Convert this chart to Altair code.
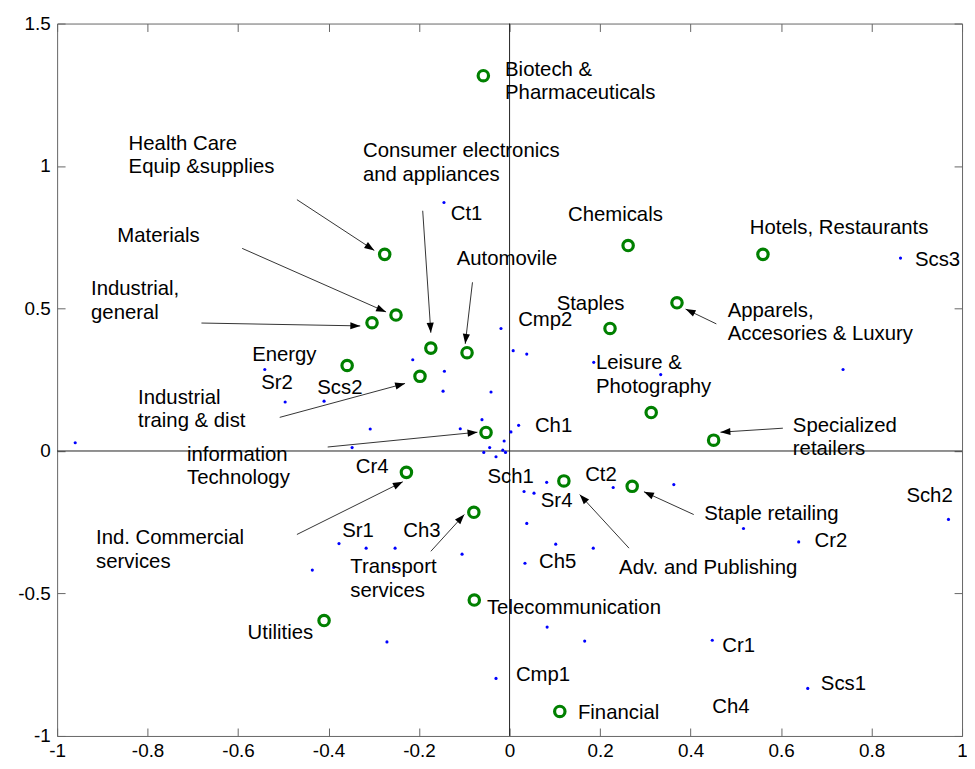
import math
import altair as alt
import pandas as pd

# ---------------- data ----------------
# sector centroids (green circles)
sector_x = [-0.058, -0.276, -0.251, -0.304, -0.174, -0.094, -0.359, -0.198, -0.052,
            0.262, 0.222, 0.560, 0.370, 0.313, 0.451, 0.120, 0.271, -0.228, -0.079,
            -0.078, -0.410, 0.111]
sector_y = [1.317, 0.690, 0.477, 0.450, 0.361, 0.345, 0.300, 0.262, 0.065,
            0.721, 0.430, 0.690, 0.520, 0.135, 0.038, -0.105, -0.124, -0.075, -0.215,
            -0.523, -0.595, -0.914]

# individual observations (blue dots)
dot_x = [-0.145, 0.864, -0.960, -0.541, -0.496, -0.410, -0.214, -0.308, -0.348, -0.019,
         0.008, 0.038, 0.186, -0.144, -0.147, -0.041, -0.061, -0.109, 0.020, 0.003,
         -0.012, -0.044, -0.015, -0.009, -0.057, -0.030, 0.082, 0.032, 0.054, 0.229,
         0.334, 0.737, 0.363, -0.377, -0.317, -0.253, -0.256, -0.105, 0.038, 0.102,
         0.185, 0.034, -0.271, 0.083, 0.166, -0.030, -0.436, 0.970, 0.517, 0.639,
         0.448, 0.659]
dot_y = [0.872, 0.677, 0.029, 0.286, 0.172, 0.175, 0.320, 0.077, 0.012, 0.430,
         0.352, 0.340, 0.311, 0.280, 0.210, 0.207, 0.110, 0.078, 0.090, 0.067,
         0.035, 0.012, 0.003, -0.005, -0.005, -0.020, -0.110, -0.142, -0.148, -0.128,
         0.268, 0.286, -0.118, -0.325, -0.341, -0.341, -0.409, -0.362, -0.254, -0.327,
         -0.341, -0.394, -0.670, -0.618, -0.667, -0.798, -0.418, -0.240, -0.272, -0.319,
         -0.664, -0.833]

# text labels (left edge / first baseline, in data units)
label_text = ["Biotech &\nPharmaceuticals", "Health Care\nEquip &supplies", "Materials",
              "Industrial,\ngeneral", "Energy", "Sr2", "Scs2", "Industrial\ntraing & dist",
              "information\nTechnology", "Cr4", "Ind. Commercial\nservices", "Sr1", "Ch3",
              "Transport\nservices", "Utilities", "Telecommunication", "Cmp1", "Financial",
              "Ch4", "Scs1", "Cr1", "Cr2", "Staple retailing", "Adv. and Publishing",
              "Ch5", "Sch1", "Sr4", "Ct2", "Sch2", "Specialized\nretailers",
              "Leisure &\nPhotography", "Apparels,\nAccesories & Luxury", "Staples",
              "Cmp2", "Ch1", "Automovile", "Chemicals", "Ct1",
              "Consumer electronics\nand appliances", "Hotels, Restaurants", "Scs3"]
label_x = [-0.010, -0.842, -0.867, -0.925, -0.569, -0.549, -0.425, -0.821,
           -0.713, -0.340, -0.914, -0.370, -0.235,
           -0.352, -0.579, -0.050, 0.014, 0.151,
           0.448, 0.688, 0.470, 0.674, 0.430, 0.242,
           0.065, -0.049, 0.069, 0.167, 0.877, 0.626,
           0.191, 0.482, 0.104,
           0.019, 0.056, -0.117, 0.129, -0.130,
           -0.324, 0.531, 0.896]
label_y = [1.316, 1.057, 0.732, 0.546, 0.315, 0.218, 0.201, 0.166,
           -0.034, -0.076, -0.328, -0.302, -0.302,
           -0.429, -0.661, -0.571, -0.807, -0.940,
           -0.920, -0.839, -0.705, -0.336, -0.243, -0.432,
           -0.412, -0.113, -0.196, -0.107, -0.179, 0.067,
           0.286, 0.471, 0.494,
           0.437, 0.067, 0.654, 0.807, 0.811,
           1.031, 0.762, 0.648]

# arrows: from label (x1, y1) to sector (x2, y2)
arrow_x1 = [-0.470, -0.591, -0.681, -0.192, -0.082, -0.508, -0.402, -0.470, -0.174, 0.264, 0.407, 0.457, 0.604]
arrow_y1 = [0.882, 0.711, 0.449, 0.843, 0.592, 0.118, 0.014, -0.293, -0.352, -0.341, -0.223, 0.446, 0.080]
arrow_x2 = [-0.299, -0.273, -0.330, -0.174, -0.098, -0.231, -0.071, -0.236, -0.100, 0.155, 0.297, 0.389, 0.466]
arrow_y2 = [0.704, 0.488, 0.439, 0.415, 0.376, 0.237, 0.066, -0.108, -0.223, -0.153, -0.143, 0.498, 0.066]

x_ticks = [-1, -0.8, -0.6, -0.4, -0.2, 0, 0.2, 0.4, 0.6, 0.8, 1]
y_ticks = [-1, -0.5, 0, 0.5, 1, 1.5]
x_domain = [-1, 1]
y_domain = [-1, 1.5]

# ---------------- layout / style ----------------
W, H = 912, 718
FONT = "Liberation Sans"
sx = W / (x_domain[1] - x_domain[0])
sy = H / (y_domain[1] - y_domain[0])

sectors = pd.DataFrame({"x": sector_x, "y": sector_y})
dots = pd.DataFrame({"x": dot_x, "y": dot_y})
labels = pd.DataFrame({"x": label_x, "y": label_y, "t": label_text})
arrows = pd.DataFrame({"x": arrow_x1, "y": arrow_y1, "x2": arrow_x2, "y2": arrow_y2})
arrows["ang"] = [
    (math.degrees(math.atan2((b - a) * sx, (d - c) * sy)) + 360) % 360
    for a, b, c, d in zip(arrow_x1, arrow_x2, arrow_y1, arrow_y2)
]

xs = alt.Scale(domain=x_domain, nice=False, zero=False)
ys = alt.Scale(domain=y_domain, nice=False, zero=False)

common_axis = dict(offset=-8, tickSize=8, domain=False, grid=False, tickColor="#666",
                   labelFont=FONT, labelFontSize=19, labelColor="black", title=None,
                   labelExpr="datum.value + ''", labelOverlap=False, labelFlush=False)
x_axis = alt.Axis(orient="bottom", values=x_ticks, labelPadding=6, **common_axis)
y_axis = alt.Axis(orient="left", values=y_ticks, labelPadding=7, **common_axis)

X = alt.X("x:Q", scale=xs, axis=x_axis)
Y = alt.Y("y:Q", scale=ys, axis=y_axis)

arrow_lines = alt.Chart(arrows).mark_rule(color="#333", strokeWidth=1).encode(
    x=X, y=Y, x2="x2:Q", y2="y2:Q")
arrow_heads = alt.Chart(arrows).mark_point(
    shape="M0,0L-0.36,1L0.36,1Z", filled=True, color="black", size=400, opacity=1
).encode(x=alt.X("x2:Q", scale=xs, axis=x_axis), y=alt.Y("y2:Q", scale=ys, axis=y_axis),
         angle=alt.Angle("ang:Q", scale=None))

dot_layer = alt.Chart(dots).mark_circle(size=10, color="#0000ff", opacity=1).encode(x=X, y=Y)
sector_layer = alt.Chart(sectors).mark_point(
    shape="circle", filled=False, size=110, strokeWidth=3.2, color="#008000", opacity=1
).encode(x=X, y=Y)
text_layer = alt.Chart(labels).mark_text(
    align="left", baseline="alphabetic", font=FONT, fontSize=20.5, color="black",
    lineBreak="\n", lineHeight=23.5
).encode(x=X, y=Y, text="t:N")

main = alt.layer(arrow_lines, arrow_heads, dot_layer, sector_layer, text_layer)

# zero lines + inward ticks on top / right
zero = pd.DataFrame({"v": [0]})
top_axis = alt.Axis(orient="top", values=x_ticks, labels=False, offset=-8, tickSize=8,
                    domain=False, grid=False, tickColor="#666", title=None)
right_axis = alt.Axis(orient="right", values=y_ticks, labels=False, offset=-8, tickSize=8,
                      domain=False, grid=False, tickColor="#666", title=None)
vline = alt.Chart(zero).mark_rule(color="#222", strokeWidth=1).encode(
    x=alt.X("v:Q", scale=xs, axis=top_axis))
hline = alt.Chart(zero).mark_rule(color="#222", strokeWidth=1).encode(
    y=alt.Y("v:Q", scale=ys, axis=right_axis))
frame = alt.layer(vline, hline)

chart = alt.layer(frame, main).resolve_scale(x="independent", y="independent").properties(
    width=W, height=H,
    autosize=alt.AutoSizeParams(type="none"),
    padding={"left": 49.5, "top": 12.7, "right": 5, "bottom": 28},
    background="white",
).configure_view(stroke="#666", strokeWidth=1)

chart.save("out.html", embed_options={"renderer": "svg", "actions": False})
